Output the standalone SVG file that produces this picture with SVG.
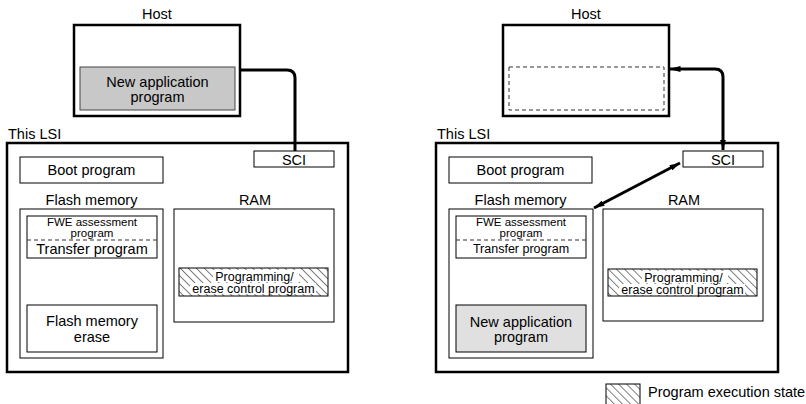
<svg xmlns="http://www.w3.org/2000/svg" width="806" height="404" viewBox="0 0 806 404">
<defs>
<pattern id="hatch" patternUnits="userSpaceOnUse" width="5.7" height="5.7" patternTransform="rotate(-45)">
<rect width="5.7" height="5.7" fill="#fff"/>
<line x1="0" y1="0" x2="0" y2="5.7" stroke="#000" stroke-width="1"/>
</pattern>
<marker id="ah" viewBox="0 0 11 6" refX="10.5" refY="3" markerWidth="11" markerHeight="6" markerUnits="userSpaceOnUse" orient="auto-start-reverse">
<path d="M0,0 L11,3 L0,6 Z" fill="#000"/>
</marker>
<style>
text{font-family:"Liberation Sans",Arial,sans-serif;fill:#000}
.t{font-size:14.5px;text-anchor:middle}
.s{font-size:11.5px;text-anchor:middle}
.m{font-size:12.5px;text-anchor:middle}
.lbl{font-size:14.5px}
.thick{fill:#fff;stroke:#000;stroke-width:2.5}
.box{fill:#fff;stroke:#000;stroke-width:1}
.dash{fill:none;stroke:#333;stroke-width:1;stroke-dasharray:4,3}
.conn{fill:none;stroke:#000;stroke-width:3}
.hatch{fill:url(#hatch);stroke:#000;stroke-width:1}
</style>
</defs>

<!-- LEFT -->
<g id="left-host">
<text class="t" x="157" y="19">Host</text>
<rect class="thick" x="74" y="25" width="166" height="91"/>
<rect x="80" y="67" width="155" height="43" fill="#c8c8c8" stroke="#444" stroke-width="1"/>
<text class="t" x="157.5" y="87">New application</text>
<text class="t" x="157.5" y="102">program</text>
</g>
<g id="left-lsi">
<text class="lbl" x="8" y="139">This LSI</text>
<rect class="thick" x="7" y="143" width="341" height="229"/>
</g>
<g id="left-sci">
<rect class="box" x="254" y="151" width="80" height="16"/>
<text class="t" x="294" y="165">SCI</text>
</g>
<g id="left-boot">
<rect class="box" x="20" y="157" width="143" height="26"/>
<text class="t" x="91.5" y="175">Boot program</text>
</g>
<g id="left-flash">
<text class="t" x="91.5" y="205">Flash memory</text>
<rect class="box" x="20" y="209" width="143" height="149"/>
</g>
<g id="left-fwe">
<rect class="box" x="27" y="216" width="130" height="42"/>
<line class="dash" x1="27" y1="240" x2="157" y2="240"/>
<text class="s" x="92" y="225.5">FWE assessment</text>
<text class="s" x="92" y="237">program</text>
<text class="t" x="92" y="254">Transfer program</text>
</g>
<g id="left-erase">
<rect class="box" x="27" y="305" width="130" height="47"/>
<text class="t" x="92" y="326">Flash memory</text>
<text class="t" x="92" y="342">erase</text>
</g>
<g id="left-ram">
<text class="t" x="255" y="205">RAM</text>
<rect class="box" x="174" y="209" width="160" height="113"/>
</g>
<g id="left-pec">
<rect class="hatch" x="179" y="268" width="149" height="28"/>
<rect x="213" y="270" width="86" height="12" fill="#fff"/>
<rect x="190" y="283" width="126" height="11" fill="#fff"/>
<text class="m" x="254.5" y="280.5">Programming/</text>
<text class="m" x="253.5" y="293">erase control program</text>
</g>

<!-- RIGHT -->
<g id="right-host">
<text class="t" x="586" y="19">Host</text>
<rect class="thick" x="503" y="25" width="166" height="91"/>
<rect class="dash" x="509" y="67" width="155" height="43"/>
</g>
<g id="right-lsi">
<text class="lbl" x="437" y="139">This LSI</text>
<rect class="thick" x="436" y="143" width="342" height="229"/>
</g>
<g id="right-sci">
<rect class="box" x="683" y="151" width="80" height="16"/>
<text class="t" x="723" y="165">SCI</text>
</g>
<g id="right-boot">
<rect class="box" x="449" y="157" width="143" height="26"/>
<text class="t" x="520.5" y="175">Boot program</text>
</g>
<g id="right-flash">
<text class="t" x="520.5" y="205">Flash memory</text>
<rect class="box" x="449" y="209" width="144" height="149"/>
</g>
<g id="right-fwe">
<rect class="box" x="456" y="216" width="130" height="42"/>
<line class="dash" x1="456" y1="240" x2="586" y2="240"/>
<text class="s" x="521" y="225.5">FWE assessment</text>
<text class="s" x="521" y="237">program</text>
<text class="s" x="521" y="253" style="font-size:12.5px">Transfer program</text>
</g>
<g id="right-newapp">
<rect x="456" y="305" width="130" height="47" fill="#e0e0e0" stroke="#000" stroke-width="1"/>
<text class="t" x="521" y="327">New application</text>
<text class="t" x="521" y="342">program</text>
</g>
<g id="right-ram">
<text class="t" x="684" y="205">RAM</text>
<rect class="box" x="603" y="209" width="160" height="112"/>
</g>
<g id="right-pec">
<rect class="hatch" x="608" y="269" width="149" height="27"/>
<rect x="642" y="271" width="86" height="12" fill="#fff"/>
<rect x="619" y="284" width="126" height="11" fill="#fff"/>
<text class="m" x="683.5" y="281.5">Programming/</text>
<text class="m" x="682.5" y="294">erase control program</text>
</g>

<g id="legend">
<rect class="hatch" x="606" y="384" width="34" height="22"/>
<text class="lbl" x="648" y="397">Program execution state</text>
</g>

<g id="connectors">
<path class="conn" d="M240,70 H287 Q295,70 295,78 V151"/>
<path class="conn" d="M670,69 H715 Q723,69 723,77 V150" marker-start="url(#ah)" marker-end="url(#ah)"/>
<line class="conn" x1="680" y1="163" x2="594" y2="208" marker-start="url(#ah)" marker-end="url(#ah)"/>
</g>
</svg>
